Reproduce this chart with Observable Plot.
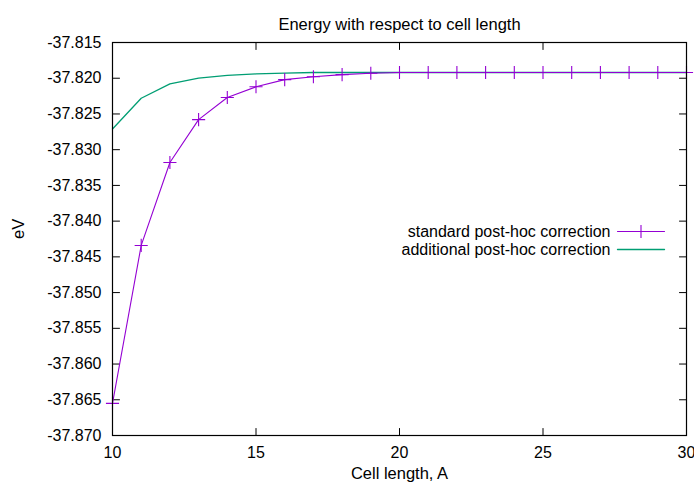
<!DOCTYPE html>
<html>
<head>
<meta charset="utf-8">
<script src="https://cdn.jsdelivr.net/npm/d3@7"></script>
<script src="https://cdn.jsdelivr.net/npm/@observablehq/plot@0.6"></script>
<style>
  html, body { margin: 0; padding: 0; background: white; }
</style>
</head>
<body>
<div id="chart"></div>
<script>
const cellLength = [10, 11, 12, 13, 14, 15, 16, 17, 18, 19, 20, 21, 22, 23, 24, 25, 26, 27, 28, 29, 30];
const standardCorrection = [-37.8655, -37.8434, -37.8318, -37.8258, -37.8227, -37.8212, -37.8202, -37.8198, -37.8195, -37.8193, -37.8192, -37.8192, -37.8192, -37.8192, -37.8192, -37.8192, -37.8192, -37.8192, -37.8192, -37.8192, -37.8192];
const additionalCorrection = [-37.8271, -37.8228, -37.8208, -37.8200, -37.8196, -37.8194, -37.8193, -37.8192, -37.8192, -37.8192, -37.8192, -37.8192, -37.8192, -37.8192, -37.8192, -37.8192, -37.8192, -37.8192, -37.8192, -37.8192, -37.8192];
const xTicks = [10, 15, 20, 25, 30];
const yTicks = [-37.870, -37.865, -37.860, -37.855, -37.850, -37.845, -37.840, -37.835, -37.830, -37.825, -37.820, -37.815];
const seriesNames = ["standard post-hoc correction", "additional post-hoc correction"];
const seriesColors = ["#9400d3", "#009e73"];
const title = "Energy with respect to cell length";
const xLabel = "Cell length, A";
const yLabel = "eV";

const standardData = cellLength.map((x, i) => ({x, y: standardCorrection[i]}));
const additionalData = cellLength.map((x, i) => ({x, y: additionalCorrection[i]}));

const xDomain = [xTicks[0], xTicks[xTicks.length - 1]];
const yDomain = [yTicks[0], yTicks[yTicks.length - 1]];

const tickShape = {draw(context, l) { context.moveTo(0, 0); context.lineTo(0, -l); }};
const tickLen = 7;
const textSize = 16.5;
const legendSize = 16;
const row1 = 189, row2 = 207;

const chart = Plot.plot({
  width: 694,
  height: 487,
  marginLeft: 112,
  marginRight: 8,
  marginTop: 42,
  marginBottom: 52,
  style: {fontFamily: "'Liberation Sans', Arial, sans-serif", fontSize: "16px", color: "black", background: "white"},
  x: {domain: xDomain},
  y: {domain: yDomain},
  marks: [
    Plot.axisX(xTicks, {tickSize: 0, tickPadding: 11, label: null, fontSize: 16}),
    Plot.axisY(yTicks, {tickSize: 0, tickPadding: 11, label: null, fontSize: 16, tickFormat: d => d.toFixed(3)}),
    // inward ticks on all four sides
    Plot.vector(yTicks, {x: xDomain[0], y: d => d, rotate: 90, length: tickLen, anchor: "start", shape: tickShape, stroke: "black", strokeWidth: 1}),
    Plot.vector(yTicks, {x: xDomain[1], y: d => d, rotate: -90, length: tickLen, anchor: "start", shape: tickShape, stroke: "black", strokeWidth: 1}),
    Plot.vector(xTicks, {x: d => d, y: yDomain[0], rotate: 0, length: tickLen, anchor: "start", shape: tickShape, stroke: "black", strokeWidth: 1}),
    Plot.vector(xTicks, {x: d => d, y: yDomain[1], rotate: 180, length: tickLen, anchor: "start", shape: tickShape, stroke: "black", strokeWidth: 1}),
    Plot.line(additionalData, {x: "x", y: "y", stroke: seriesColors[1], strokeWidth: 1.3}),
    Plot.line(standardData, {x: "x", y: "y", stroke: seriesColors[0], strokeWidth: 1.1}),
    Plot.dot(standardData, {x: "x", y: "y", symbol: "plus", r: 4.3, stroke: seriesColors[0], strokeWidth: 1.1}),
    Plot.frame({stroke: "black", strokeWidth: 1.2}),
    // titles
    Plot.text([title], {frameAnchor: "top", dy: -24, fontSize: textSize, fill: "black"}),
    Plot.text([xLabel], {frameAnchor: "bottom", dy: 43, fontSize: textSize, fill: "black"}),
    Plot.text([yLabel], {frameAnchor: "left", dx: -94, rotate: -90, fontSize: textSize, fill: "black"}),
    // legend
    Plot.text([seriesNames[0]], {frameAnchor: "top-right", dx: -76, dy: row1, textAnchor: "end", lineAnchor: "middle", fontSize: legendSize, fill: "black"}),
    Plot.text([seriesNames[1]], {frameAnchor: "top-right", dx: -76, dy: row2, textAnchor: "end", lineAnchor: "middle", fontSize: legendSize, fill: "black"}),
    Plot.vector([0], {frameAnchor: "top-right", dx: -69, dy: row1, rotate: 90, length: 47, anchor: "start", shape: tickShape, stroke: seriesColors[0], strokeWidth: 1.1}),
    Plot.dot([0], {frameAnchor: "top-right", dx: -45.5, dy: row1, symbol: "plus", r: 4.3, stroke: seriesColors[0], strokeWidth: 1.1}),
    Plot.vector([0], {frameAnchor: "top-right", dx: -69, dy: row2, rotate: 90, length: 47, anchor: "start", shape: tickShape, stroke: seriesColors[1], strokeWidth: 1.3})
  ]
});
document.getElementById("chart").appendChild(chart);
</script>
</body>
</html>
